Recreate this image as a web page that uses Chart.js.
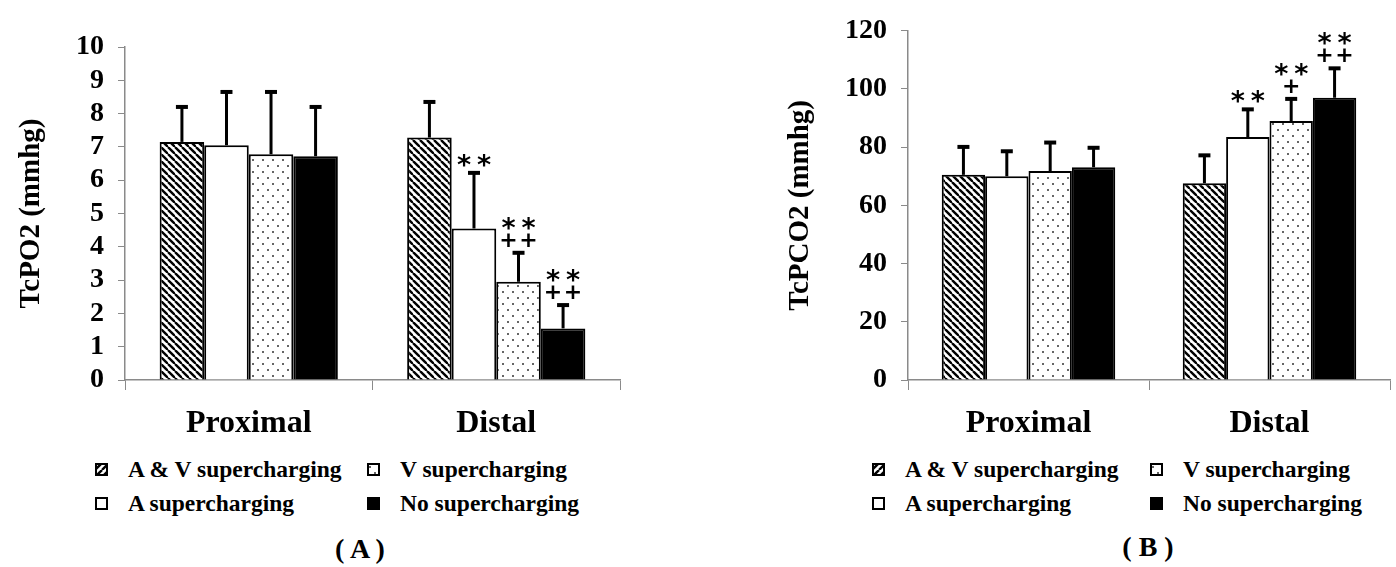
<!DOCTYPE html>
<html>
<head>
<meta charset="utf-8">
<script src="https://cdn.jsdelivr.net/npm/chart.js@4.4.1/dist/chart.umd.min.js"></script>
<style>
  body { margin:0; background:#fff; width:1396px; height:567px; position:relative; overflow:hidden;
         font-family:"Liberation Serif", serif; font-weight:bold; color:#000; }
  .box { position:absolute; top:0; height:450px; }
  .item { position:absolute; height:26px; line-height:26px; font-size:23.5px; white-space:nowrap; }
  .item canvas { position:absolute; left:0; top:7px; }
  .item span { position:absolute; left:33px; top:0; }
  .panel { position:absolute; width:80px; text-align:center; font-size:28px; }
</style>
</head>
<body>
<div class="box" style="left:0;width:700px"><canvas id="po2"></canvas></div>
<div class="box" style="left:700px;width:696px"><canvas id="pco2"></canvas></div>
<div id="legendA"></div>
<div id="legendB"></div>
<div class="panel" style="left:320px;top:533px">( A )</div>
<div class="panel" style="left:1108px;top:531px">( B )</div>

<script>
// groups and series
const groups = ['Proximal', 'Distal'];
const seriesNames = ['A & V supercharging', 'A supercharging', 'V supercharging', 'No supercharging'];

// TcPO2 means and SD (panel A)
const po2AV = [7.15, 7.28];
const po2A  = [7.05, 4.55];
const po2V  = [6.78, 2.95];
const po2No = [6.72, 1.55];
const po2AVsd = [1.05, 1.07];
const po2Asd  = [1.60, 1.67];
const po2Vsd  = [1.87, 0.87];
const po2Nosd = [1.48, 0.70];
const po2Ticks = [0, 10, 1];

// TcPCO2 means and SD (panel B)
const pco2AV = [70.5, 67.6];
const pco2A  = [70.0, 83.5];
const pco2V  = [71.8, 89.0];
const pco2No = [73.1, 97.0];
const pco2AVsd = [9.6, 9.6];
const pco2Asd  = [8.6, 9.5];
const pco2Vsd  = [9.8, 7.6];
const pco2Nosd = [6.7, 10.1];
const pco2Ticks = [0, 120, 20];

// significance marks (top line first)
const po2Marks  = [[[], []], [[], ['**']], [[], ['**', '++']], [[], ['**', '++']]];
const pco2Marks = [[[], []], [[], ['**']], [[], ['**', '+']], [[], ['**', '++']]];

// patterns
function hatch(dir) {
  const s = 7, c = document.createElement('canvas');
  c.width = s; c.height = s;
  const g = c.getContext('2d');
  g.fillStyle = '#fff'; g.fillRect(0, 0, s, s);
  g.strokeStyle = '#000'; g.lineWidth = 2.4;
  for (const k of [-s, 0, s]) {
    g.beginPath();
    if (dir === '\\') { g.moveTo(k, 0); g.lineTo(k + s, s); }
    else { g.moveTo(k, s); g.lineTo(k + s, 0); }
    g.stroke();
  }
  return g.createPattern(c, 'repeat');
}
function dots() {
  const c = document.createElement('canvas');
  c.width = 10; c.height = 12;
  const g = c.getContext('2d');
  g.fillStyle = '#fff'; g.fillRect(0, 0, 10, 12);
  g.fillStyle = '#666';
  g.fillRect(2, 3, 2, 2);
  g.fillRect(7, 9, 2, 2);
  return g.createPattern(c, 'repeat');
}
const fills = [hatch('\\'), '#fff', dots(), '#000'];

// error bars + marks
const errorBars = {
  id: 'errorBars',
  afterDatasetsDraw(chart) {
    const ctx = chart.ctx, y = chart.scales.y;
    ctx.save();
    chart.data.datasets.forEach((ds, i) => {
      chart.getDatasetMeta(i).data.forEach((bar, j) => {
        const top = y.getPixelForValue(ds.data[j] + ds.sd[j]);
        ctx.strokeStyle = '#000';
        ctx.lineWidth = 3;
        ctx.beginPath(); ctx.moveTo(bar.x, bar.y); ctx.lineTo(bar.x, top); ctx.stroke();
        ctx.lineWidth = 4;
        ctx.beginPath(); ctx.moveTo(bar.x - 6, top); ctx.lineTo(bar.x + 6, top); ctx.stroke();

        const lines = ds.marks[j];
        ctx.fillStyle = '#000';
        ctx.textAlign = 'center';
        lines.forEach((ln, k) => {
          const cy = top - 14 - 17 * (lines.length - 1 - k);
          [...ln].forEach((ch, m) => {
            const cx = ln.length === 1 ? bar.x : bar.x + (m === 0 ? -10 : 10);
            if (ch === '*') {
              ctx.font = 'bold 27px "DejaVu Sans"';
              ctx.fillText(ch, cx, cy + 15);
            } else {
              ctx.font = 'bold 22px "DejaVu Sans"';
              ctx.fillText(ch, cx, cy + 8);
            }
          });
        });
      });
    });
    ctx.restore();
  }
};

function makeChart(id, means, sds, marks, ticks, title, pad, yWidth) {
  return new Chart(document.getElementById(id), {
    type: 'bar',
    data: {
      labels: groups,
      datasets: means.map((m, i) => ({
        label: seriesNames[i], data: m, sd: sds[i], marks: marks[i],
        backgroundColor: fills[i], borderColor: '#000', borderWidth: 2,
        barPercentage: 1, categoryPercentage: 0.72
      }))
    },
    options: {
      responsive: true, maintainAspectRatio: false, animation: false,
      layout: { padding: pad },
      plugins: { legend: { display: false }, tooltip: { enabled: false } },
      scales: {
        x: {
          grid: { drawOnChartArea: false, color: '#8a8a8a', tickLength: 10, offset: true },
          border: { color: '#8a8a8a', width: 1.5 },
          ticks: { color: '#000', padding: 15, font: { family: 'Liberation Serif', weight: 'bold', size: 32 } },
          afterFit: s => { s.height = 70; }
        },
        y: {
          min: ticks[0], max: ticks[1],
          grid: { drawOnChartArea: false, color: '#8a8a8a', tickLength: 7 },
          border: { color: '#8a8a8a', width: 1.5 },
          ticks: { stepSize: ticks[2], autoSkip: false, color: '#000', padding: 14,
                   font: { family: 'Liberation Serif', weight: 'bold', size: 28 } },
          title: { display: true, text: title, color: '#000', font: { family: 'Liberation Serif', weight: 'bold', size: 29 } },
          afterFit: s => { s.width = yWidth; }
        }
      }
    },
    plugins: [errorBars]
  });
}

makeChart('po2', [po2AV, po2A, po2V, po2No], [po2AVsd, po2Asd, po2Vsd, po2Nosd], po2Marks, po2Ticks,
  'TcPO2 (mmhg)', { left: 10, top: 47, right: 80, bottom: 0 }, 115);
makeChart('pco2', [pco2AV, pco2A, pco2V, pco2No], [pco2AVsd, pco2Asd, pco2Vsd, pco2Nosd], pco2Marks, pco2Ticks,
  'TcPCO2 (mmhg)', { left: 79, top: 27, right: 6, bottom: 0 }, 129);

// legends (2 x 2, column-major)
const swatchFills = [hatch('/'), '#fff', dots(), '#000'];
function legend(el, x0, x1) {
  const pos = [[x0, 456], [x0, 490], [x1, 456], [x1, 490]];
  seriesNames.forEach((name, i) => {
    const d = document.createElement('div');
    d.className = 'item';
    d.style.left = pos[i][0] + 'px';
    d.style.top = pos[i][1] + 'px';
    const c = document.createElement('canvas');
    c.width = 13; c.height = 13;
    const g = c.getContext('2d');
    g.fillStyle = swatchFills[i]; g.fillRect(0, 0, 13, 13);
    g.strokeStyle = '#000'; g.lineWidth = 2; g.strokeRect(1, 1, 11, 11);
    const t = document.createElement('span');
    t.textContent = name;
    d.appendChild(c); d.appendChild(t);
    el.appendChild(d);
  });
}
legend(document.getElementById('legendA'), 95, 367);
legend(document.getElementById('legendB'), 872, 1150);
</script>
</body>
</html>
